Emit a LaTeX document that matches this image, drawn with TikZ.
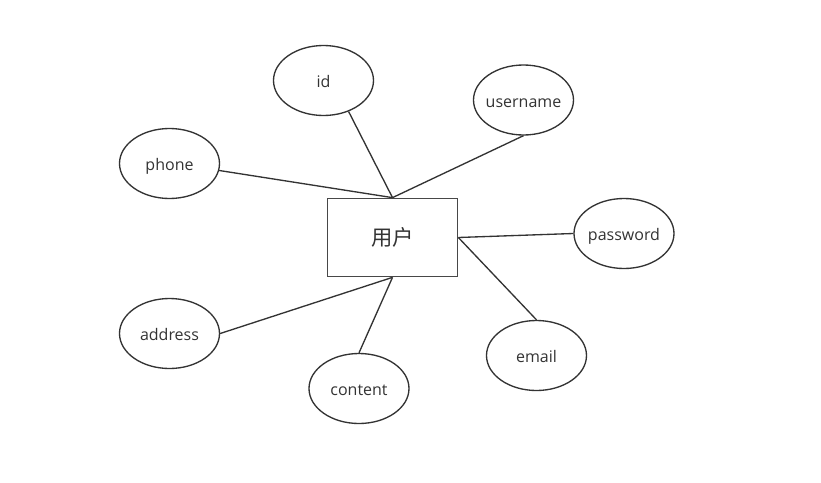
\documentclass[tikz,border=0pt]{standalone}
\usepackage{fontspec}
\setmainfont{Open Sans}
\newfontfamily\cjk{Noto Sans CJK SC}
\usetikzlibrary{shapes.geometric}
\definecolor{ink}{HTML}{333333}
\definecolor{boxline}{HTML}{484848}
\newdimen\pxu
\pxu=0.75pt
\tikzset{
  attr/.style={ellipse, draw=ink, line width=1pt, minimum width=100\pxu, minimum height=70\pxu, inner xsep=-12pt, inner ysep=0pt, text=ink, font=\fontsize{12pt}{14pt}\selectfont, text height=11.5pt, text depth=0.5pt},
  entity/.style={rectangle, draw=boxline, line width=1.3pt, minimum width=130\pxu, minimum height=78\pxu, inner sep=0pt, text=ink, font=\cjk\fontsize{16pt}{18pt}\selectfont},
  link/.style={draw=ink, line width=1pt}
}
\begin{document}
\begin{tikzpicture}[x=0.75pt, y=-0.75pt]
\useasboundingbox (0,0) rectangle (821,482);
\node[entity] (user) at (392.5,237.5) {用户};
\node[attr] (id) at (323.5,80.5) {id};
\node[attr] (username) at (523.5,100) {username};
\node[attr] (phone) at (169.5,163.5) {phone};
\node[attr] (password) at (624,233.5) {password};
\node[attr] (address) at (169.5,333.5) {address};
\node[attr] (content) at (359,388.5) {content};
\node[attr] (email) at (536.5,355.5) {email};
\draw[link] (id.-51) -- (user.north);
\draw[link] (username.south) -- (user.north);
\draw[link] (phone.-8) -- (user.north);
\draw[link] (password.west) -- (user.east);
\draw[link] (email.north) -- (user.east);
\draw[link] (address.east) -- (user.south);
\draw[link] (content.north) -- (user.south);
\end{tikzpicture}
\end{document}
